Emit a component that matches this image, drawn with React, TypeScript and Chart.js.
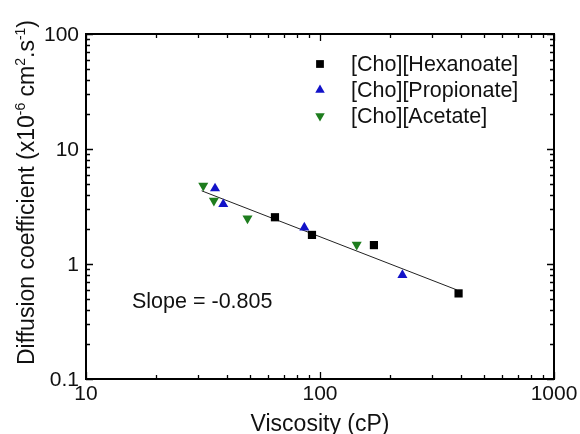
import React, { useEffect, useRef } from "react";
import { Chart, registerables } from "chart.js";

Chart.register(...registerables);

// Data (x: viscosity cP, y: diffusion coefficient ×1e-6 cm²/s)
const hexanoateX = [64.2, 92.4, 170, 391];
const hexanoateY = [2.55, 1.79, 1.46, 0.555];
const propionateX = [35.6, 38.6, 85.7, 225];
const propionateY = [4.54, 3.31, 2.07, 0.8];
const acetateX = [31.7, 35.2, 49.0, 143.5];
const acetateY = [4.8, 3.56, 2.49, 1.47];
const fitX = [31.2, 384];
const fitY = [4.33, 0.596];

const seriesLabels = ["[Cho][Hexanoate]", "[Cho][Propionate]", "[Cho][Acetate]"];
const xTickValues = [10, 100, 1000];
const xTickLabels = ["10", "100", "1000"];
const yTickValues = [0.1, 1, 10, 100];
const yTickLabels = ["0.1", "1", "10", "100"];
const xTitle = "Viscosity (cP)";
const slopeText = "Slope = -0.805";

const FONT = "'Liberation Sans', Arial, Helvetica, sans-serif";
const COLORS = ["#000000", "#1212c8", "#1e7d1e"];

const toPts = (xs: number[], ys: number[]) => xs.map((x, i) => ({ x, y: ys[i] }));

function drawMarker(ctx: CanvasRenderingContext2D, kind: number, x: number, y: number, r: number, color: string) {
  ctx.save();
  ctx.fillStyle = color;
  ctx.beginPath();
  if (kind === 0) {
    const s = r * Math.SQRT1_2;
    ctx.rect(x - s, y - s, 2 * s, 2 * s);
  } else {
    const dir = kind === 1 ? 1 : -1;
    const h = 1.5 * r;
    const w = r * Math.sqrt(3);
    ctx.moveTo(x, y - dir * r);
    ctx.lineTo(x + w / 2, y - dir * r + dir * h);
    ctx.lineTo(x - w / 2, y - dir * r + dir * h);
    ctx.closePath();
  }
  ctx.fill();
  ctx.restore();
}

const framePlugin = {
  id: "framePlugin",
  afterDraw(chart: any) {
    const ctx: CanvasRenderingContext2D = chart.ctx;
    const { left, right, top, bottom } = chart.chartArea;
    const xs = chart.scales.x;
    const ys = chart.scales.y;
    ctx.save();
    ctx.strokeStyle = "#000";
    ctx.lineWidth = 2;
    ctx.strokeRect(left, top, right - left, bottom - top);

    // ticks (inward)
    ctx.lineWidth = 1.3;
    const majorLen = 7;
    const minorLen = 4;
    ctx.beginPath();
    for (let d = 10; d < 1000; d *= 10) {
      for (let m = 1; m <= 10; m++) {
        const v = d * m;
        const px = Math.round(xs.getPixelForValue(v)) + 0.5;
        const len = m === 1 || m === 10 ? majorLen : minorLen;
        ctx.moveTo(px, bottom);
        ctx.lineTo(px, bottom - len);
        ctx.moveTo(px, top);
        ctx.lineTo(px, top + len);
      }
    }
    for (let d = 0.1; d < 99; d *= 10) {
      for (let m = 1; m <= 10; m++) {
        const v = d * m;
        const py = Math.round(ys.getPixelForValue(v)) + 0.5;
        const len = m === 1 || m === 10 ? majorLen : minorLen;
        ctx.moveTo(left, py);
        ctx.lineTo(left + len, py);
        ctx.moveTo(right, py);
        ctx.lineTo(right - len, py);
      }
    }
    ctx.stroke();

    // tick labels
    ctx.fillStyle = "#111";
    ctx.font = `21px ${FONT}`;
    ctx.textAlign = "center";
    ctx.textBaseline = "alphabetic";
    xTickValues.forEach((v, i) => {
      ctx.fillText(xTickLabels[i], xs.getPixelForValue(v), bottom + 21);
    });
    ctx.textAlign = "right";
    ctx.textBaseline = "middle";
    yTickValues.forEach((v, i) => {
      ctx.fillText(yTickLabels[i], left - 7, ys.getPixelForValue(v) + 1);
    });

    // x title
    ctx.font = `23px ${FONT}`;
    ctx.textAlign = "center";
    ctx.textBaseline = "alphabetic";
    ctx.fillText(xTitle, (left + right) / 2, 431);

    // y title with superscripts
    const segs: [string, boolean][] = [
      ["Diffusion coefficient (x10", false],
      ["-6", true],
      [" cm", false],
      ["2", true],
      [".s", false],
      ["-1", true],
      [")", false],
    ];
    const mainFont = `23px ${FONT}`;
    const supFont = `14px ${FONT}`;
    ctx.save();
    ctx.translate(34, 365);
    ctx.rotate(-Math.PI / 2);
    ctx.textAlign = "left";
    let cx = 0;
    segs.forEach(([t, sup]) => {
      ctx.font = sup ? supFont : mainFont;
      ctx.fillText(t, cx, sup ? -9 : 0);
      cx += ctx.measureText(t).width;
    });
    ctx.restore();

    // slope annotation
    ctx.font = `21.5px ${FONT}`;
    ctx.textAlign = "left";
    ctx.textBaseline = "middle";
    ctx.fillText(slopeText, 132, 302);

    // legend
    ctx.font = `21.5px ${FONT}`;
    const rows = [64, 90, 116];
    seriesLabels.forEach((lab, i) => {
      drawMarker(ctx, i, 320, rows[i], 5.5, COLORS[i]);
      ctx.fillStyle = "#111";
      ctx.textAlign = "left";
      ctx.textBaseline = "middle";
      ctx.fillText(lab, 351, rows[i] + 1);
    });
    ctx.restore();
  },
};

export default function App() {
  const ref = useRef<HTMLCanvasElement | null>(null);
  useEffect(() => {
    document.body.style.margin = "0";
    document.body.style.background = "#fff";
    if (!ref.current) return;
    const chart = new Chart(ref.current, {
      type: "scatter",
      data: {
        datasets: [
          {
            label: seriesLabels[0],
            data: toPts(hexanoateX, hexanoateY),
            pointStyle: "rect",
            pointRadius: 5.8,
            backgroundColor: COLORS[0],
            borderColor: COLORS[0],
            borderWidth: 0,
          },
          {
            label: seriesLabels[1],
            data: toPts(propionateX, propionateY),
            pointStyle: "triangle",
            pointRadius: 5.8,
            backgroundColor: COLORS[1],
            borderColor: COLORS[1],
            borderWidth: 0,
          },
          {
            label: seriesLabels[2],
            data: toPts(acetateX, acetateY),
            pointStyle: "triangle",
            rotation: 180,
            pointRadius: 5.8,
            backgroundColor: COLORS[2],
            borderColor: COLORS[2],
            borderWidth: 0,
          },
          {
            label: "fit",
            data: toPts(fitX, fitY),
            showLine: true,
            pointRadius: 0,
            borderColor: "#222",
            borderWidth: 1,
            order: 10,
          } as any,
        ],
      },
      options: {
        responsive: false,
        animation: false,
        devicePixelRatio: 1,
        layout: { padding: { top: 34, right: 26, left: 0, bottom: 0 } },
        plugins: { legend: { display: false }, tooltip: { enabled: false } },
        scales: {
          x: {
            type: "logarithmic",
            min: 10,
            max: 1000,
            ticks: { display: false },
            grid: { display: false },
            border: { display: false },
            afterFit: (s: any) => {
              s.height = 55;
            },
          },
          y: {
            type: "logarithmic",
            min: 0.1,
            max: 100,
            ticks: { display: false },
            grid: { display: false },
            border: { display: false },
            afterFit: (s: any) => {
              s.width = 86;
            },
          },
        },
      },
      plugins: [framePlugin],
    } as any);
    return () => chart.destroy();
  }, []);
  return (
    <div style={{ position: "absolute", left: 0, top: 0, width: 580, height: 434, background: "#fff" }}>
      <canvas ref={ref} width={580} height={434} style={{ width: 580, height: 434, display: "block" }} />
    </div>
  );
}
